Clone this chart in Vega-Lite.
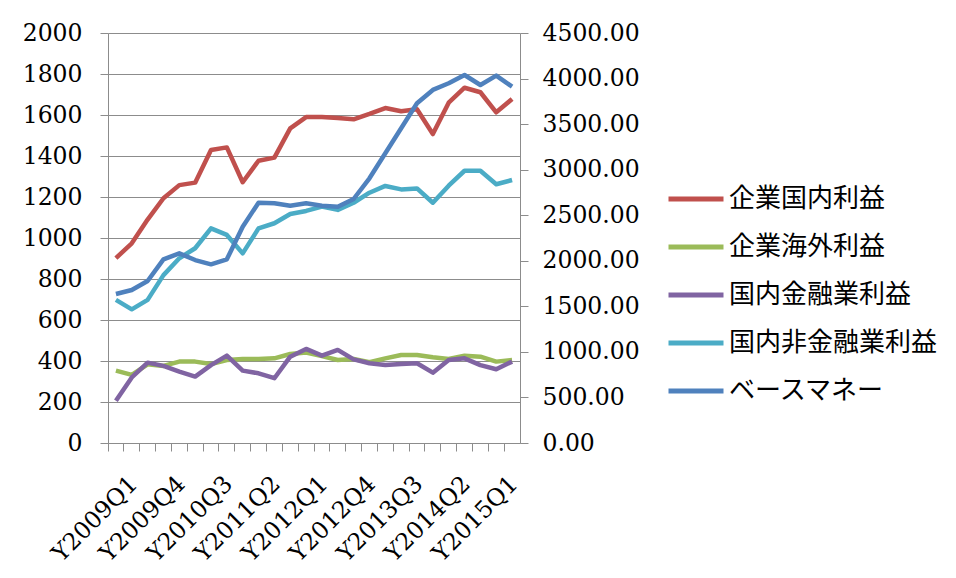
{
  "$schema": "https://vega.github.io/schema/vega-lite/v6.json",
  "width": 412,
  "height": 410,
  "autosize": {"type": "none"},
  "padding": {"left": 108, "top": 33, "right": 436, "bottom": 135},
  "background": "white",
  "config": {
    "view": {"stroke": null},
    "axis": {"labelFont": "DejaVu Serif", "labelFontSize": 23.5, "labelColor": "#000000", "domainColor": "#8C8C8C", "tickColor": "#8C8C8C", "gridColor": "#8C8C8C", "tickSize": 8, "title": null},
    "legend": {"labelFont": "Noto Sans CJK JP", "labelFontSize": 26, "labelColor": "#000000", "labelLimit": 0}
  },
  "data": {"values": [
    {"q": "Y2009Q1", "s": "企業国内利益", "v": 902}, {"q": "Y2009Q2", "s": "企業国内利益", "v": 974}, {"q": "Y2009Q3", "s": "企業国内利益", "v": 1090}, {"q": "Y2009Q4", "s": "企業国内利益", "v": 1194}, {"q": "Y2010Q1", "s": "企業国内利益", "v": 1258}, {"q": "Y2010Q2", "s": "企業国内利益", "v": 1270}, {"q": "Y2010Q3", "s": "企業国内利益", "v": 1429}, {"q": "Y2010Q4", "s": "企業国内利益", "v": 1442}, {"q": "Y2011Q1", "s": "企業国内利益", "v": 1272}, {"q": "Y2011Q2", "s": "企業国内利益", "v": 1377}, {"q": "Y2011Q3", "s": "企業国内利益", "v": 1392}, {"q": "Y2011Q4", "s": "企業国内利益", "v": 1535}, {"q": "Y2012Q1", "s": "企業国内利益", "v": 1590}, {"q": "Y2012Q2", "s": "企業国内利益", "v": 1590}, {"q": "Y2012Q3", "s": "企業国内利益", "v": 1585}, {"q": "Y2012Q4", "s": "企業国内利益", "v": 1579}, {"q": "Y2013Q1", "s": "企業国内利益", "v": 1605}, {"q": "Y2013Q2", "s": "企業国内利益", "v": 1634}, {"q": "Y2013Q3", "s": "企業国内利益", "v": 1618}, {"q": "Y2013Q4", "s": "企業国内利益", "v": 1628}, {"q": "Y2014Q1", "s": "企業国内利益", "v": 1507}, {"q": "Y2014Q2", "s": "企業国内利益", "v": 1660}, {"q": "Y2014Q3", "s": "企業国内利益", "v": 1733}, {"q": "Y2014Q4", "s": "企業国内利益", "v": 1711}, {"q": "Y2015Q1", "s": "企業国内利益", "v": 1613}, {"q": "Y2015Q2", "s": "企業国内利益", "v": 1678},
    {"q": "Y2009Q1", "s": "企業海外利益", "v": 353}, {"q": "Y2009Q2", "s": "企業海外利益", "v": 332}, {"q": "Y2009Q3", "s": "企業海外利益", "v": 384}, {"q": "Y2009Q4", "s": "企業海外利益", "v": 376}, {"q": "Y2010Q1", "s": "企業海外利益", "v": 397}, {"q": "Y2010Q2", "s": "企業海外利益", "v": 397}, {"q": "Y2010Q3", "s": "企業海外利益", "v": 385}, {"q": "Y2010Q4", "s": "企業海外利益", "v": 405}, {"q": "Y2011Q1", "s": "企業海外利益", "v": 410}, {"q": "Y2011Q2", "s": "企業海外利益", "v": 410}, {"q": "Y2011Q3", "s": "企業海外利益", "v": 413}, {"q": "Y2011Q4", "s": "企業海外利益", "v": 434}, {"q": "Y2012Q1", "s": "企業海外利益", "v": 441}, {"q": "Y2012Q2", "s": "企業海外利益", "v": 424}, {"q": "Y2012Q3", "s": "企業海外利益", "v": 405}, {"q": "Y2012Q4", "s": "企業海外利益", "v": 410}, {"q": "Y2013Q1", "s": "企業海外利益", "v": 394}, {"q": "Y2013Q2", "s": "企業海外利益", "v": 413}, {"q": "Y2013Q3", "s": "企業海外利益", "v": 429}, {"q": "Y2013Q4", "s": "企業海外利益", "v": 429}, {"q": "Y2014Q1", "s": "企業海外利益", "v": 418}, {"q": "Y2014Q2", "s": "企業海外利益", "v": 410}, {"q": "Y2014Q3", "s": "企業海外利益", "v": 426}, {"q": "Y2014Q4", "s": "企業海外利益", "v": 421}, {"q": "Y2015Q1", "s": "企業海外利益", "v": 397}, {"q": "Y2015Q2", "s": "企業海外利益", "v": 405},
    {"q": "Y2009Q1", "s": "国内金融業利益", "v": 206}, {"q": "Y2009Q2", "s": "国内金融業利益", "v": 320}, {"q": "Y2009Q3", "s": "国内金融業利益", "v": 392}, {"q": "Y2009Q4", "s": "国内金融業利益", "v": 376}, {"q": "Y2010Q1", "s": "国内金融業利益", "v": 348}, {"q": "Y2010Q2", "s": "国内金融業利益", "v": 324}, {"q": "Y2010Q3", "s": "国内金融業利益", "v": 380}, {"q": "Y2010Q4", "s": "国内金融業利益", "v": 426}, {"q": "Y2011Q1", "s": "国内金融業利益", "v": 353}, {"q": "Y2011Q2", "s": "国内金融業利益", "v": 340}, {"q": "Y2011Q3", "s": "国内金融業利益", "v": 316}, {"q": "Y2011Q4", "s": "国内金融業利益", "v": 421}, {"q": "Y2012Q1", "s": "国内金融業利益", "v": 459}, {"q": "Y2012Q2", "s": "国内金融業利益", "v": 426}, {"q": "Y2012Q3", "s": "国内金融業利益", "v": 454}, {"q": "Y2012Q4", "s": "国内金融業利益", "v": 408}, {"q": "Y2013Q1", "s": "国内金融業利益", "v": 389}, {"q": "Y2013Q2", "s": "国内金融業利益", "v": 380}, {"q": "Y2013Q3", "s": "国内金融業利益", "v": 385}, {"q": "Y2013Q4", "s": "国内金融業利益", "v": 389}, {"q": "Y2014Q1", "s": "国内金融業利益", "v": 343}, {"q": "Y2014Q2", "s": "国内金融業利益", "v": 405}, {"q": "Y2014Q3", "s": "国内金融業利益", "v": 413}, {"q": "Y2014Q4", "s": "国内金融業利益", "v": 380}, {"q": "Y2015Q1", "s": "国内金融業利益", "v": 360}, {"q": "Y2015Q2", "s": "国内金融業利益", "v": 397},
    {"q": "Y2009Q1", "s": "国内非金融業利益", "v": 698}, {"q": "Y2009Q2", "s": "国内非金融業利益", "v": 652}, {"q": "Y2009Q3", "s": "国内非金融業利益", "v": 698}, {"q": "Y2009Q4", "s": "国内非金融業利益", "v": 819}, {"q": "Y2010Q1", "s": "国内非金融業利益", "v": 901}, {"q": "Y2010Q2", "s": "国内非金融業利益", "v": 950}, {"q": "Y2010Q3", "s": "国内非金融業利益", "v": 1047}, {"q": "Y2010Q4", "s": "国内非金融業利益", "v": 1015}, {"q": "Y2011Q1", "s": "国内非金融業利益", "v": 925}, {"q": "Y2011Q2", "s": "国内非金融業利益", "v": 1047}, {"q": "Y2011Q3", "s": "国内非金融業利益", "v": 1072}, {"q": "Y2011Q4", "s": "国内非金融業利益", "v": 1117}, {"q": "Y2012Q1", "s": "国内非金融業利益", "v": 1132}, {"q": "Y2012Q2", "s": "国内非金融業利益", "v": 1153}, {"q": "Y2012Q3", "s": "国内非金融業利益", "v": 1137}, {"q": "Y2012Q4", "s": "国内非金融業利益", "v": 1172}, {"q": "Y2013Q1", "s": "国内非金融業利益", "v": 1221}, {"q": "Y2013Q2", "s": "国内非金融業利益", "v": 1254}, {"q": "Y2013Q3", "s": "国内非金融業利益", "v": 1237}, {"q": "Y2013Q4", "s": "国内非金融業利益", "v": 1242}, {"q": "Y2014Q1", "s": "国内非金融業利益", "v": 1172}, {"q": "Y2014Q2", "s": "国内非金融業利益", "v": 1255}, {"q": "Y2014Q3", "s": "国内非金融業利益", "v": 1328}, {"q": "Y2014Q4", "s": "国内非金融業利益", "v": 1328}, {"q": "Y2015Q1", "s": "国内非金融業利益", "v": 1262}, {"q": "Y2015Q2", "s": "国内非金融業利益", "v": 1283},
    {"q": "Y2009Q1", "s": "ベースマネー", "v": 1635}, {"q": "Y2009Q2", "s": "ベースマネー", "v": 1679}, {"q": "Y2009Q3", "s": "ベースマネー", "v": 1778}, {"q": "Y2009Q4", "s": "ベースマネー", "v": 2016}, {"q": "Y2010Q1", "s": "ベースマネー", "v": 2082}, {"q": "Y2010Q2", "s": "ベースマネー", "v": 2008}, {"q": "Y2010Q3", "s": "ベースマネー", "v": 1961}, {"q": "Y2010Q4", "s": "ベースマネー", "v": 2016}, {"q": "Y2011Q1", "s": "ベースマネー", "v": 2374}, {"q": "Y2011Q2", "s": "ベースマネー", "v": 2638}, {"q": "Y2011Q3", "s": "ベースマネー", "v": 2631}, {"q": "Y2011Q4", "s": "ベースマネー", "v": 2605}, {"q": "Y2012Q1", "s": "ベースマネー", "v": 2631}, {"q": "Y2012Q2", "s": "ベースマネー", "v": 2605}, {"q": "Y2012Q3", "s": "ベースマネー", "v": 2594}, {"q": "Y2012Q4", "s": "ベースマネー", "v": 2678}, {"q": "Y2013Q1", "s": "ベースマネー", "v": 2905}, {"q": "Y2013Q2", "s": "ベースマネー", "v": 3180}, {"q": "Y2013Q3", "s": "ベースマネー", "v": 3454}, {"q": "Y2013Q4", "s": "ベースマネー", "v": 3729}, {"q": "Y2014Q1", "s": "ベースマネー", "v": 3875}, {"q": "Y2014Q2", "s": "ベースマネー", "v": 3948}, {"q": "Y2014Q3", "s": "ベースマネー", "v": 4039}, {"q": "Y2014Q4", "s": "ベースマネー", "v": 3929}, {"q": "Y2015Q1", "s": "ベースマネー", "v": 4032}, {"q": "Y2015Q2", "s": "ベースマネー", "v": 3911}
  ]},
  "encoding": {
    "x": {
      "field": "q", "type": "ordinal", "sort": null, "bandPosition": 0.5,
      "scale": {"type": "band", "paddingInner": 0, "paddingOuter": 0},
      "axis": {"bandPosition": 0, "labelOffset": 18, "labelAngle": -45, "labelAlign": "right", "labelBaseline": "middle", "labelPadding": 29, "grid": false,
        "labelExpr": "indexof(['Y2009Q1','Y2009Q4','Y2010Q3','Y2011Q2','Y2012Q1','Y2012Q4','Y2013Q3','Y2014Q2','Y2015Q1'], datum.value) >= 0 ? datum.value : ''"}
    },
    "color": {
      "field": "s", "type": "nominal",
      "scale": {"domain": ["企業国内利益", "企業海外利益", "国内金融業利益", "国内非金融業利益", "ベースマネー"], "range": ["#C0504D", "#9BBB59", "#8064A2", "#4BACC6", "#4F81BD"]},
      "legend": {"title": null, "orient": "none", "legendX": 558, "legendY": 136, "symbolType": "stroke", "symbolSize": 3025, "symbolStrokeWidth": 5, "rowPadding": 5, "labelOffset": 3}
    }
  },
  "layer": [
    {
      "transform": [{"filter": "datum.s !== 'ベースマネー'"}],
      "mark": {"type": "line", "strokeWidth": 4.5, "strokeJoin": "round"},
      "encoding": {
        "y": {"field": "v", "type": "quantitative", "scale": {"domain": [0, 2000], "nice": false},
          "axis": {"orient": "left", "values": [0, 200, 400, 600, 800, 1000, 1200, 1400, 1600, 1800, 2000], "grid": true, "labelPadding": 18, "format": "d"}}
      }
    },
    {
      "transform": [{"filter": "datum.s === 'ベースマネー'"}],
      "mark": {"type": "line", "strokeWidth": 4.5, "strokeJoin": "round"},
      "encoding": {
        "y": {"field": "v", "type": "quantitative", "scale": {"domain": [0, 4500], "nice": false},
          "axis": {"orient": "right", "values": [0, 500, 1000, 1500, 2000, 2500, 3000, 3500, 4000, 4500], "grid": false, "labelPadding": 14, "format": ".2f"}}
      }
    }
  ],
  "resolve": {"scale": {"y": "independent"}}
}
